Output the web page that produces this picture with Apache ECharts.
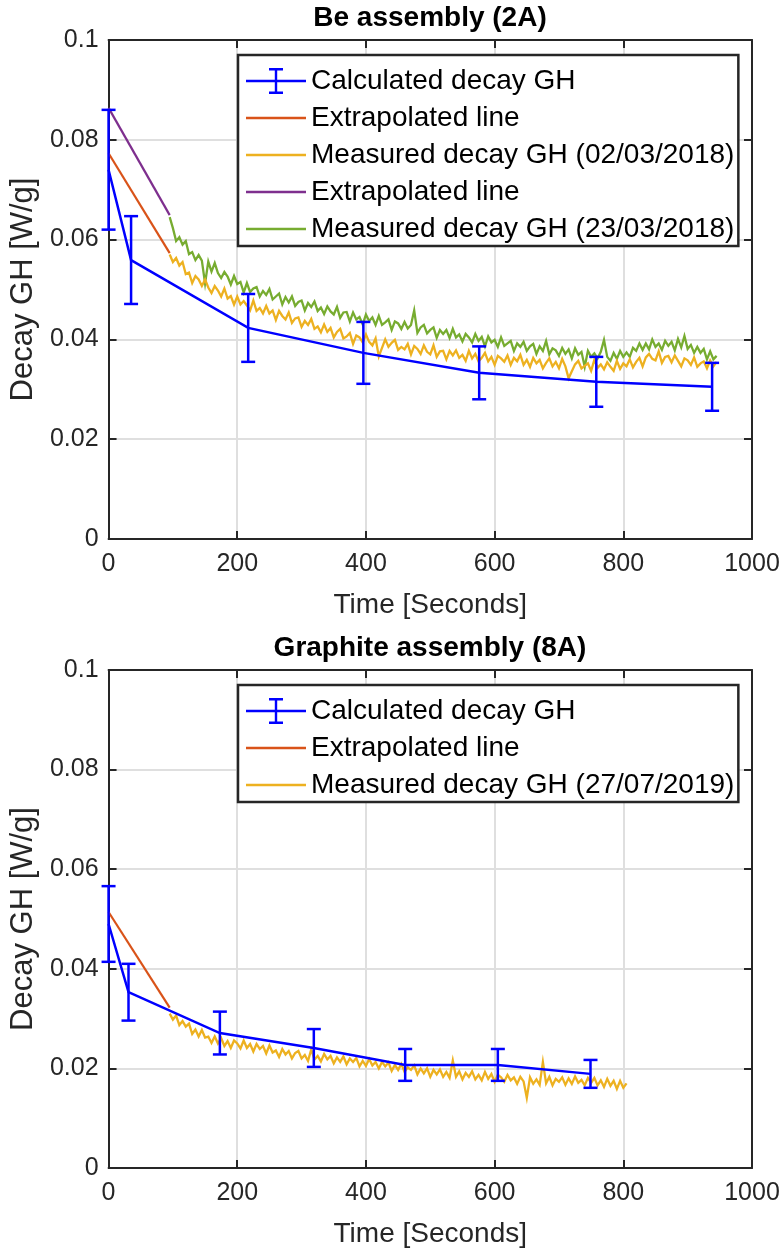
<!DOCTYPE html>
<html>
<head>
<meta charset="utf-8">
<script src="https://cdn.jsdelivr.net/npm/echarts@6/dist/echarts.min.js"></script>
<style>
  html, body { margin: 0; padding: 0; background: #ffffff; }
  #chart { width: 783px; height: 1249px; }
</style>
</head>
<body>
<div id="chart"></div>
<script>
// ---- axis setup ----
const panelTitles = ['Be assembly (2A)', 'Graphite assembly (8A)'];
const xTickStep = 200;
const yTickStep = 0.02;

// ---- Be assembly (2A) ----
const beCalcT   = [0, 35, 217, 396, 576, 758, 938];
const beCalcV   = [0.074, 0.0559, 0.0423, 0.0373, 0.0333, 0.0315, 0.0305];
const beCalcErr = [0.012, 0.0088, 0.0068, 0.0062, 0.0053, 0.005, 0.0048];

const beExtrap1T = [0, 95];
const beExtrap1V = [0.0773, 0.0573];
const beExtrap2T = [0, 95];
const beExtrap2V = [0.0864, 0.0649];

// measured decay heat, sampled every 5 s from t = 95 s
const beMeasStart = 95;
const beMeasStep = 5;
const beMeas1V = [
  0.0570, 0.0555, 0.0563, 0.0548, 0.0555, 0.0531, 0.0534, 0.0513, 0.0527, 0.0520,
  0.0507, 0.0520, 0.0504, 0.0493, 0.0507, 0.0498, 0.0486, 0.0502, 0.0482, 0.0487,
  0.0470, 0.0486, 0.0470, 0.0477, 0.0468, 0.0458, 0.0478, 0.0457, 0.0463, 0.0452,
  0.0467, 0.0452, 0.0458, 0.0439, 0.0457, 0.0447, 0.0440, 0.0454, 0.0433, 0.0442,
  0.0444, 0.0425, 0.0437, 0.0429, 0.0441, 0.0421, 0.0426, 0.0414, 0.0430, 0.0415,
  0.0423, 0.0404, 0.0415, 0.0421, 0.0402, 0.0406, 0.0413, 0.0391, 0.0408, 0.0404,
  0.0394, 0.0410, 0.0395, 0.0388, 0.0402, 0.0366, 0.0383, 0.0400, 0.0385, 0.0393,
  0.0399, 0.0379, 0.0385, 0.0380, 0.0391, 0.0370, 0.0387, 0.0381, 0.0371, 0.0388,
  0.0375, 0.0370, 0.0388, 0.0365, 0.0376, 0.0377, 0.0360, 0.0377, 0.0368, 0.0378,
  0.0363, 0.0369, 0.0357, 0.0377, 0.0362, 0.0371, 0.0356, 0.0363, 0.0373, 0.0356,
  0.0365, 0.0349, 0.0367, 0.0362, 0.0355, 0.0368, 0.0349, 0.0363, 0.0356, 0.0369,
  0.0349, 0.0359, 0.0345, 0.0363, 0.0352, 0.0359, 0.0342, 0.0353, 0.0362, 0.0346,
  0.0355, 0.0342, 0.0361, 0.0346, 0.0322, 0.0336, 0.0350, 0.0357, 0.0342, 0.0347,
  0.0352, 0.0337, 0.0359, 0.0343, 0.0350, 0.0340, 0.0354, 0.0345, 0.0337, 0.0357,
  0.0341, 0.0352, 0.0346, 0.0360, 0.0344, 0.0355, 0.0363, 0.0346, 0.0364, 0.0371,
  0.0361, 0.0358, 0.0376, 0.0353, 0.0365, 0.0367, 0.0354, 0.0368, 0.0357, 0.0346,
  0.0362, 0.0358, 0.0349, 0.0364, 0.0345, 0.0352, 0.0356, 0.0342, 0.0358, 0.0346,
  0.0355
];
const beMeas2V = [
  0.0645, 0.0623, 0.0597, 0.0605, 0.0590, 0.0597, 0.0571, 0.0575, 0.0559, 0.0569,
  0.0558, 0.0512, 0.0556, 0.0536, 0.0553, 0.0533, 0.0523, 0.0535, 0.0526, 0.0510,
  0.0527, 0.0511, 0.0515, 0.0494, 0.0513, 0.0495, 0.0502, 0.0505, 0.0486, 0.0497,
  0.0489, 0.0501, 0.0480, 0.0486, 0.0492, 0.0470, 0.0485, 0.0474, 0.0486, 0.0467,
  0.0475, 0.0478, 0.0458, 0.0473, 0.0465, 0.0476, 0.0457, 0.0464, 0.0451, 0.0466,
  0.0456, 0.0450, 0.0465, 0.0443, 0.0454, 0.0455, 0.0436, 0.0454, 0.0440, 0.0445,
  0.0430, 0.0450, 0.0437, 0.0444, 0.0429, 0.0447, 0.0429, 0.0434, 0.0440, 0.0419,
  0.0436, 0.0432, 0.0421, 0.0435, 0.0422, 0.0429, 0.0458, 0.0413, 0.0424, 0.0429,
  0.0412, 0.0419, 0.0424, 0.0403, 0.0419, 0.0411, 0.0419, 0.0403, 0.0421, 0.0404,
  0.0410, 0.0396, 0.0411, 0.0404, 0.0394, 0.0411, 0.0397, 0.0405, 0.0386, 0.0406,
  0.0394, 0.0399, 0.0385, 0.0404, 0.0387, 0.0392, 0.0397, 0.0377, 0.0392, 0.0385,
  0.0395, 0.0377, 0.0386, 0.0391, 0.0371, 0.0386, 0.0377, 0.0397, 0.0370, 0.0382,
  0.0378, 0.0367, 0.0383, 0.0371, 0.0380, 0.0362, 0.0382, 0.0369, 0.0375, 0.0345,
  0.0377, 0.0365, 0.0372, 0.0362, 0.0375, 0.0399, 0.0365, 0.0357, 0.0373, 0.0361,
  0.0377, 0.0365, 0.0374, 0.0365, 0.0383, 0.0377, 0.0392, 0.0379, 0.0392, 0.0380,
  0.0400, 0.0385, 0.0392, 0.0379, 0.0397, 0.0387, 0.0395, 0.0378, 0.0401, 0.0384,
  0.0407, 0.0381, 0.0389, 0.0373, 0.0385, 0.0373, 0.0381, 0.0360, 0.0376, 0.0360,
  0.0367
];

// ---- Graphite assembly (8A) ----
const grCalcT   = [0, 31, 173, 319, 461, 605, 749];
const grCalcV   = [0.049, 0.0353, 0.0271, 0.0241, 0.0207, 0.0207, 0.0189];
const grCalcErr = [0.0076, 0.0057, 0.0043, 0.0038, 0.0032, 0.0032, 0.0028];

const grExtrapT = [0, 95];
const grExtrapV = [0.0514, 0.0322];

const grMeasStart = 95;
const grMeasStep = 5;
const grMeasV = [
  0.0310, 0.0298, 0.0306, 0.0287, 0.0295, 0.0284, 0.0290, 0.0269, 0.0278, 0.0264,
  0.0277, 0.0262, 0.0264, 0.0251, 0.0264, 0.0250, 0.0261, 0.0245, 0.0255, 0.0241,
  0.0256, 0.0250, 0.0240, 0.0256, 0.0241, 0.0249, 0.0234, 0.0249, 0.0239, 0.0245,
  0.0230, 0.0246, 0.0232, 0.0236, 0.0223, 0.0239, 0.0228, 0.0235, 0.0220, 0.0231,
  0.0235, 0.0220, 0.0227, 0.0215, 0.0238, 0.0218, 0.0225, 0.0214, 0.0229, 0.0218,
  0.0225, 0.0210, 0.0222, 0.0213, 0.0224, 0.0208, 0.0220, 0.0213, 0.0221, 0.0204,
  0.0215, 0.0205, 0.0219, 0.0206, 0.0213, 0.0200, 0.0213, 0.0204, 0.0212, 0.0195,
  0.0207, 0.0197, 0.0209, 0.0193, 0.0202, 0.0197, 0.0206, 0.0188, 0.0200, 0.0190,
  0.0200, 0.0183, 0.0197, 0.0188, 0.0198, 0.0183, 0.0193, 0.0181, 0.0216, 0.0183,
  0.0194, 0.0178, 0.0191, 0.0183, 0.0194, 0.0178, 0.0187, 0.0176, 0.0193, 0.0179,
  0.0189, 0.0173, 0.0187, 0.0182, 0.0173, 0.0187, 0.0176, 0.0182, 0.0169, 0.0183,
  0.0174, 0.0141, 0.0182, 0.0169, 0.0178, 0.0167, 0.0213, 0.0170, 0.0183, 0.0166,
  0.0179, 0.0173, 0.0182, 0.0167, 0.0180, 0.0169, 0.0184, 0.0171, 0.0177, 0.0166,
  0.0181, 0.0171, 0.0181, 0.0166, 0.0176, 0.0163, 0.0179, 0.0165, 0.0175, 0.0159,
  0.0175, 0.0161, 0.0170
];

// ---- legend text ----
const legendText = {
  beCalc: 'Calculated decay GH',
  beExt1: 'Extrapolated line',
  beMeas1: 'Measured decay GH (02/03/2018)',
  beExt2: 'Extrapolated line',
  beMeas2: 'Measured decay GH (23/03/2018)',
  grCalc: 'Calculated decay GH',
  grExt: 'Extrapolated line',
  grMeas: 'Measured decay GH (27/07/2019)'
};

// MATLAB default palette
const C_BLUE = '#0000FF';
const C_ORANGE = '#D95319';
const C_YELLOW = '#EDB120';
const C_PURPLE = '#7E2F8E';
const C_GREEN = '#77AC30';
const INK = '#262626';
const FONT = '"Liberation Sans", Arial, Helvetica, sans-serif';

const pairs = (t, v) => t.map((x, i) => [x, v[i]]);
const sampled = (start, step, v) => v.map((y, i) => [start + step * i, y]);

const grids = [
  { left: 106, top: 40, width: 646, height: 499 },
  { left: 106, top: 670, width: 646, height: 498 }
];

function xAxes(gi) {
  const base = {
    gridIndex: gi, type: 'value', min: 0, max: 1000, interval: xTickStep,
    axisLine: { show: true, onZero: false, lineStyle: { color: INK, width: 2 } },
    axisTick: { show: true, inside: true, length: 8, lineStyle: { color: INK, width: 2 } }
  };
  return [
    Object.assign({}, base, {
      position: 'bottom',
      axisLabel: { show: true, color: INK, fontSize: 25, fontFamily: FONT, margin: 13,
        formatter: v => String(v) },
      splitLine: { show: true, lineStyle: { color: '#dfdfdf', width: 2 } },
      name: 'Time [Seconds]', nameLocation: 'middle', nameGap: 52,
      nameTextStyle: { color: INK, fontSize: 28, fontFamily: FONT }
    }),
    Object.assign({}, base, {
      position: 'top', axisLabel: { show: false }, splitLine: { show: false }
    })
  ];
}

function yAxes(gi) {
  const base = {
    gridIndex: gi, type: 'value', min: 0, max: 0.1, interval: yTickStep,
    axisLine: { show: true, onZero: false, lineStyle: { color: INK, width: 2 } },
    axisTick: { show: true, inside: true, length: 8, lineStyle: { color: INK, width: 2 } }
  };
  return [
    Object.assign({}, base, {
      position: 'left',
      axisLabel: {
        show: true, color: INK, fontSize: 25, fontFamily: FONT, margin: 10,
        formatter: v => String(+v.toFixed(2))
      },
      splitLine: { show: true, lineStyle: { color: '#dfdfdf', width: 2 } },
      name: 'Decay GH [W/g]', nameLocation: 'middle', nameGap: 69,
      nameTextStyle: { color: INK, fontSize: 31, fontFamily: FONT }
    }),
    Object.assign({}, base, {
      position: 'right', axisLabel: { show: false }, splitLine: { show: false }
    })
  ];
}

function lineSeries(name, gi, data, color, width, z) {
  return {
    name, type: 'line', xAxisIndex: gi * 2, yAxisIndex: gi * 2,
    data, symbol: 'none', showSymbol: false, smooth: false, silent: true,
    lineStyle: { color, width, join: 'miter' }, itemStyle: { color }, z: z || 2,
    animation: false
  };
}

function errorBars(name, gi, t, v, err) {
  return {
    name, type: 'custom', xAxisIndex: gi * 2, yAxisIndex: gi * 2,
    data: t.map((x, i) => [x, v[i] - err[i], v[i] + err[i]]),
    encode: { x: 0, y: [1, 2] },
    itemStyle: { color: C_BLUE }, z: 6, silent: true, animation: false,
    renderItem(params, api) {
      const x = api.value(0);
      const lo = api.coord([x, api.value(1)]);
      const hi = api.coord([x, api.value(2)]);
      const w = 7;
      const style = { stroke: C_BLUE, lineWidth: 2.5, fill: null };
      return {
        type: 'group',
        children: [
          { type: 'line', shape: { x1: lo[0], y1: lo[1], x2: hi[0], y2: hi[1] }, style },
          { type: 'line', shape: { x1: lo[0] - w, y1: lo[1], x2: lo[0] + w, y2: lo[1] }, style },
          { type: 'line', shape: { x1: hi[0] - w, y1: hi[1], x2: hi[0] + w, y2: hi[1] }, style }
        ]
      };
    }
  };
}

// legend glyphs: a short line, and a line crossed by a capped error bar
const ICON_LINE = 'path://M0,0 M60,26 M0,11.8 h60 v2.4 h-60 z';
const ICON_ERR = 'path://M0,0 M60,26 M0,11.8 h60 v2.4 h-60 z M28.8,1 h2.4 v24 h-2.4 z M23,0 h14 v2.4 h-14 z M23,23.6 h14 v2.4 h-14 z';

function legend(top, names) {
  return {
    orient: 'vertical', left: 238, top,
    backgroundColor: '#ffffff', borderColor: INK, borderWidth: 2.5, borderRadius: 0,
    padding: [12, 4, 3, 8],
    itemWidth: 60, itemHeight: 26, itemGap: 9,
    selectedMode: false,
    textStyle: { color: '#000000', fontSize: 28, lineHeight: 28, fontFamily: FONT, padding: [0, 0, 0, 0] },
    formatter: n => legendText[n],
    data: names.map((n, i) => ({ name: n, icon: i === 0 ? ICON_ERR : ICON_LINE })),
    z: 10
  };
}

const chart = echarts.init(document.getElementById('chart'), null, { renderer: 'canvas' });

chart.setOption({
  backgroundColor: '#ffffff',
  animation: false,
  title: [
    { text: panelTitles[0], left: 430, top: 4, textAlign: 'center', padding: 0,
      textStyle: { color: '#000000', fontSize: 28, fontWeight: 'bold', fontFamily: FONT } },
    { text: panelTitles[1], left: 430, top: 634, textAlign: 'center', padding: 0,
      textStyle: { color: '#000000', fontSize: 28, fontWeight: 'bold', fontFamily: FONT } }
  ],
  grid: grids,
  xAxis: xAxes(0).concat(xAxes(1)),
  yAxis: yAxes(0).concat(yAxes(1)),
  legend: [
    legend(55, ['beCalc', 'beExt1', 'beMeas1', 'beExt2', 'beMeas2']),
    legend(685, ['grCalc', 'grExt', 'grMeas'])
  ],
  series: [
    // Be assembly
    lineSeries('beCalc', 0, pairs(beCalcT, beCalcV), C_BLUE, 2.5, 5),
    lineSeries('beExt1', 0, pairs(beExtrap1T, beExtrap1V), C_ORANGE, 2.2, 3),
    lineSeries('beMeas1', 0, sampled(beMeasStart, beMeasStep, beMeas1V), C_YELLOW, 2.3, 3),
    lineSeries('beExt2', 0, pairs(beExtrap2T, beExtrap2V), C_PURPLE, 2.2, 3),
    lineSeries('beMeas2', 0, sampled(beMeasStart, beMeasStep, beMeas2V), C_GREEN, 2.3, 2),
    errorBars('beCalc', 0, beCalcT, beCalcV, beCalcErr),
    // Graphite assembly
    lineSeries('grCalc', 1, pairs(grCalcT, grCalcV), C_BLUE, 2.5, 5),
    lineSeries('grExt', 1, pairs(grExtrapT, grExtrapV), C_ORANGE, 2.2, 3),
    lineSeries('grMeas', 1, sampled(grMeasStart, grMeasStep, grMeasV), C_YELLOW, 2.3, 3),
    errorBars('grCalc', 1, grCalcT, grCalcV, grCalcErr)
  ]
});
</script>
</body>
</html>
